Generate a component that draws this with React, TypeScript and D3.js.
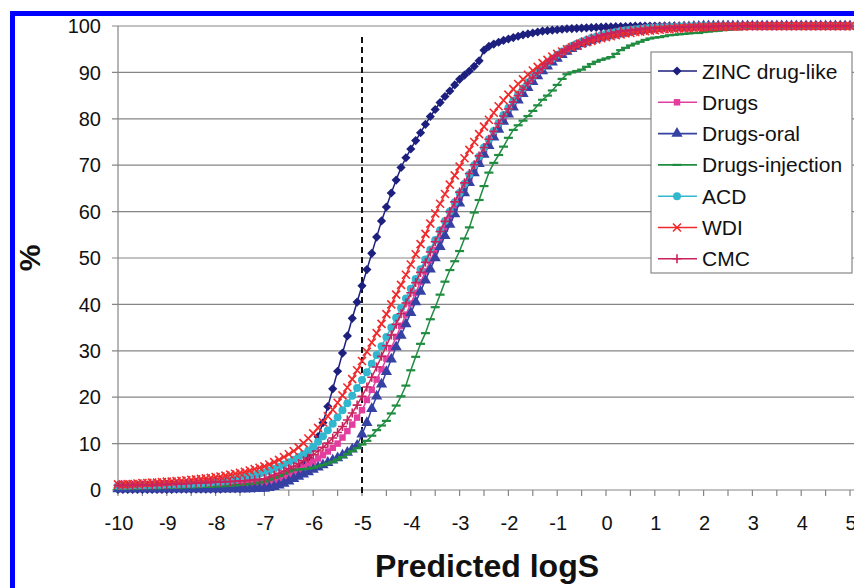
import React from "react";
import * as d3 from "d3";

// logS bins from -10 to 5 in steps of 0.1 (151 points)
const logS: number[] = d3.range(151).map((i) => Math.round((-10 + i * 0.1) * 10) / 10);
const xTicks: number[] = [-10, -9, -8, -7, -6, -5, -4, -3, -2, -1, 0, 1, 2, 3, 4, 5];
const yTicks: number[] = [0, 10, 20, 30, 40, 50, 60, 70, 80, 90, 100];

const zinc: number[] = [
  0.1, 0.1, 0.1, 0.1, 0.1, 0.1, 0.1, 0.1, 0.1, 0.1,
  0.1, 0.1, 0.2, 0.2, 0.2, 0.2, 0.2, 0.2, 0.2, 0.2,
  0.2, 0.2, 0.3, 0.3, 0.3, 0.3, 0.4, 0.4, 0.4, 0.5,
  0.6, 0.9, 1.3, 1.8, 2.4, 3.1, 3.8, 4.6, 5.5, 7.0,
  9.0, 11.5, 14.5, 18.0, 21.8, 25.6, 29.5, 33.2, 37.0, 40.5,
  44.0, 47.5, 51.0, 54.5, 58.0, 61.0, 64.0, 66.8, 69.5, 71.6,
  73.5, 75.3, 77.0, 78.8, 80.5, 82.0, 83.5, 84.8, 86.0, 87.3,
  88.5, 89.4, 90.3, 91.3, 92.5, 94.8, 95.6, 96.1, 96.5, 96.9,
  97.2, 97.5, 97.8, 98.1, 98.3, 98.5, 98.7, 98.9, 99.0, 99.1,
  99.2, 99.3, 99.4, 99.45, 99.5, 99.55, 99.6, 99.65, 99.7, 99.75,
  99.8, 99.8, 99.85, 99.9, 99.9, 99.95, 100, 100, 100, 100,
  100, 100, 100, 100, 100, 100, 100, 100, 100, 100,
  100, 100, 100, 100, 100, 100, 100, 100, 100, 100,
  100, 100, 100, 100, 100, 100, 100, 100, 100, 100,
  100, 100, 100, 100, 100, 100, 100, 100, 100, 100,
  100,
];

const drugs: number[] = [
  0.7, 0.7, 0.7, 0.7, 0.7, 0.8, 0.8, 0.8, 0.8, 0.8,
  0.9, 0.9, 0.9, 0.9, 0.9, 1.0, 1.0, 1.0, 1.0, 1.0,
  1.0, 1.1, 1.1, 1.2, 1.2, 1.3, 1.3, 1.4, 1.4, 1.5,
  1.5, 1.8, 2.1, 2.5, 2.9, 3.3, 3.8, 4.3, 4.9, 5.5,
  6.1, 6.8, 7.5, 8.3, 9.1, 10.0, 11.3, 12.7, 14.1, 15.6,
  17.2, 19.4, 21.6, 23.8, 26.0, 28.3, 30.6, 33.0, 35.4, 37.8,
  40.2, 42.5, 44.8, 47.1, 49.4, 51.7, 54.0, 56.3, 58.6, 60.8,
  63.0, 65.1, 67.2, 69.2, 71.1, 73.0, 74.8, 76.6, 78.3, 79.9,
  81.5, 83.0, 84.4, 85.8, 87.1, 88.3, 89.4, 90.4, 91.4, 92.3,
  93.1, 93.9, 94.6, 95.2, 95.7, 96.2, 96.6, 97.0, 97.3, 97.6,
  97.9, 98.1, 98.3, 98.5, 98.7, 98.9, 99.0, 99.1, 99.2, 99.3,
  99.4, 99.5, 99.6, 99.6, 99.7, 99.7, 99.8, 99.8, 99.9, 99.9,
  99.9, 99.9, 100, 100, 100, 100, 100, 100, 100, 100,
  100, 100, 100, 100, 100, 100, 100, 100, 100, 100,
  100, 100, 100, 100, 100, 100, 100, 100, 100, 100,
  100,
];

const drugsOral: number[] = [
  0.2, 0.2, 0.2, 0.2, 0.2, 0.2, 0.2, 0.2, 0.2, 0.2,
  0.2, 0.2, 0.2, 0.2, 0.2, 0.2, 0.2, 0.2, 0.2, 0.2,
  0.2, 0.2, 0.2, 0.2, 0.2, 0.2, 0.2, 0.2, 0.3, 0.3,
  0.3, 0.5, 0.7, 1.0, 1.4, 1.9, 2.4, 2.9, 3.4, 3.9,
  4.4, 4.9, 5.4, 5.9, 6.4, 6.9, 7.5, 8.1, 8.8, 9.6,
  12.0, 14.5, 17.5, 20.2, 22.8, 25.5, 28.2, 30.8, 33.3, 35.8,
  38.2, 40.5, 42.8, 45.2, 47.6, 50.0, 52.4, 54.8, 57.2, 59.5,
  61.8, 64.0, 66.2, 68.3, 70.3, 72.3, 74.2, 76.0, 77.7, 79.4,
  81.0, 82.5, 84.0, 85.4, 86.7, 88.0, 89.2, 90.3, 91.3, 92.2,
  93.0, 93.8, 94.5, 95.1, 95.6, 96.1, 96.5, 96.9, 97.2, 97.5,
  97.8, 98.0, 98.2, 98.4, 98.6, 98.8, 98.9, 99.0, 99.2, 99.3,
  99.4, 99.5, 99.6, 99.6, 99.7, 99.7, 99.8, 99.8, 99.9, 99.9,
  100, 100, 100, 100, 100, 100, 100, 100, 100, 100,
  100, 100, 100, 100, 100, 100, 100, 100, 100, 100,
  100, 100, 100, 100, 100, 100, 100, 100, 100, 100,
  100,
];

const drugsInjection: number[] = [
  0.3, 0.3, 0.3, 0.3, 0.3, 0.4, 0.4, 0.4, 0.4, 0.4,
  0.5, 0.5, 0.5, 0.5, 0.6, 0.6, 0.6, 0.7, 0.7, 0.7,
  0.8, 0.8, 0.9, 0.9, 1.0, 1.1, 1.2, 1.3, 1.4, 1.6,
  1.8, 2.2, 2.6, 3.0, 3.5, 4.0, 4.3, 4.4, 4.5, 4.6,
  4.8, 5.1, 5.4, 5.7, 6.1, 6.6, 7.1, 7.8, 8.4, 9.0,
  9.8, 10.6, 11.7, 12.9, 13.9, 14.9, 16.5, 18.2, 20.2, 22.5,
  25.8, 28.7, 31.5, 33.8, 36.8, 39.4, 42.1, 44.9, 47.4, 49.3,
  51.5, 54.2, 56.6, 59.8, 62.5, 65.5, 68.4, 70.5, 72.2, 74.0,
  75.9, 77.6, 78.6, 79.6, 80.6, 81.7, 82.9, 84.1, 85.0, 86.1,
  87.3, 88.6, 89.6, 90.0, 90.3, 90.6, 91.2, 91.8, 92.3, 92.7,
  93.0, 93.3, 94.0, 94.8, 95.3, 95.8, 96.2, 96.6, 97.0, 97.3,
  97.5, 97.6, 97.8, 98.0, 98.1, 98.2, 98.3, 98.4, 98.5, 98.5,
  98.7, 98.8, 98.9, 99.0, 99.1, 99.2, 99.3, 99.3, 99.4, 99.4,
  99.5, 99.5, 99.6, 99.6, 99.6, 99.7, 99.7, 99.7, 99.8, 99.8,
  99.8, 99.8, 99.9, 99.9, 99.9, 99.9, 99.9, 100, 100, 100,
  100,
];

const acd: number[] = [
  0.9, 0.9, 0.9, 1.0, 1.0, 1.0, 1.0, 1.1, 1.1, 1.1,
  1.2, 1.2, 1.2, 1.3, 1.3, 1.3, 1.4, 1.4, 1.5, 1.6,
  1.7, 1.8, 1.9, 2.1, 2.3, 2.6, 2.8, 3.0, 3.2, 3.5,
  3.8, 4.2, 4.6, 5.0, 5.5, 6.0, 6.5, 7.1, 7.7, 8.5,
  9.3, 10.4, 11.6, 12.9, 14.3, 15.7, 17.2, 18.7, 20.3, 22.0,
  23.7, 25.4, 27.2, 29.1, 31.0, 33.0, 35.0, 37.1, 39.2, 41.3,
  43.4, 45.5, 47.6, 49.7, 51.8, 53.9, 56.0, 58.0, 60.0, 62.0,
  64.0, 66.0, 68.0, 70.0, 71.9, 73.8, 75.6, 77.4, 79.1, 80.8,
  82.4, 83.9, 85.3, 86.6, 87.9, 89.1, 90.2, 91.2, 92.1, 93.0,
  93.8, 94.5, 95.1, 95.7, 96.2, 96.6, 97.0, 97.4, 97.7, 98.0,
  98.3, 98.5, 98.7, 98.9, 99.1, 99.2, 99.3, 99.4, 99.5, 99.6,
  99.6, 99.7, 99.7, 99.8, 99.8, 99.9, 99.9, 99.9, 100, 100,
  100, 100, 100, 100, 100, 100, 100, 100, 100, 100,
  100, 100, 100, 100, 100, 100, 100, 100, 100, 100,
  100, 100, 100, 100, 100, 100, 100, 100, 100, 100,
  100,
];

const wdi: number[] = [
  1.2, 1.2, 1.3, 1.3, 1.4, 1.5, 1.5, 1.6, 1.6, 1.7,
  1.8, 1.8, 1.9, 2.0, 2.1, 2.2, 2.3, 2.4, 2.5, 2.6,
  2.8, 2.9, 3.1, 3.3, 3.5, 3.7, 3.9, 4.2, 4.5, 4.8,
  5.1, 5.5, 6.0, 6.5, 7.1, 7.7, 8.4, 9.2, 10.1, 11.1,
  12.2, 13.4, 14.6, 15.9, 17.3, 18.8, 20.4, 22.1, 23.9, 25.8,
  27.8, 29.8, 31.8, 33.8, 35.8, 37.9, 40.0, 42.1, 44.2, 46.4,
  48.6, 50.8, 53.0, 55.2, 57.4, 59.6, 61.7, 63.8, 65.8, 67.8,
  69.7, 71.5, 73.3, 75.0, 76.7, 78.3, 79.8, 81.3, 82.7, 84.0,
  85.2, 86.4, 87.5, 88.5, 89.5, 90.4, 91.2, 92.0, 92.7, 93.4,
  94.0, 94.5, 95.0, 95.4, 95.8, 96.2, 96.5, 96.8, 97.1, 97.4,
  97.6, 97.8, 98.0, 98.2, 98.4, 98.5, 98.7, 98.8, 98.9, 99.0,
  99.1, 99.2, 99.3, 99.3, 99.4, 99.5, 99.5, 99.6, 99.6, 99.7,
  99.7, 99.7, 99.8, 99.8, 99.8, 99.9, 99.9, 99.9, 99.9, 100,
  100, 100, 100, 100, 100, 100, 100, 100, 100, 100,
  100, 100, 100, 100, 100, 100, 100, 100, 100, 100,
  100,
];

const cmc: number[] = [
  1.0, 1.0, 1.0, 1.0, 1.1, 1.1, 1.1, 1.1, 1.2, 1.2,
  1.2, 1.3, 1.3, 1.3, 1.4, 1.4, 1.5, 1.5, 1.6, 1.6,
  1.7, 1.7, 1.8, 1.8, 1.9, 2.0, 2.0, 2.1, 2.2, 2.3,
  2.4, 2.8, 3.2, 3.6, 4.1, 4.6, 5.1, 5.7, 6.3, 6.9,
  7.6, 8.4, 9.2, 10.1, 11.2, 12.4, 13.7, 15.1, 16.6, 18.3,
  20.2, 22.2, 24.3, 26.5, 28.8, 31.1, 33.4, 35.7, 38.0, 40.3,
  42.5, 44.7, 46.9, 49.1, 51.3, 53.5, 55.7, 57.9, 60.0, 62.1,
  64.2, 66.2, 68.2, 70.1, 72.0, 73.8, 75.6, 77.3, 79.0, 80.6,
  82.1, 83.6, 85.0, 86.3, 87.6, 88.8, 89.9, 90.9, 91.9, 92.8,
  93.6, 94.3, 95.0, 95.6, 96.1, 96.6, 97.0, 97.4, 97.7, 98.0,
  98.3, 98.5, 98.7, 98.9, 99.0, 99.1, 99.2, 99.3, 99.4, 99.5,
  99.5, 99.6, 99.6, 99.7, 99.7, 99.8, 99.8, 99.8, 99.9, 99.9,
  99.9, 99.9, 99.9, 100, 100, 100, 100, 100, 100, 100,
  100, 100, 100, 100, 100, 100, 100, 100, 100, 100,
  100, 100, 100, 100, 100, 100, 100, 100, 100, 100,
  100,
];

const seriesNames: string[] = ["ZINC drug-like", "Drugs", "Drugs-oral", "Drugs-injection", "ACD", "WDI", "CMC"];
const seriesValues: number[][] = [zinc, drugs, drugsOral, drugsInjection, acd, wdi, cmc];
const seriesColors: string[] = ["#1d1f7e", "#e33e9f", "#3542a3", "#1f8c40", "#33b7cf", "#f02a2c", "#c9235d"];
const seriesMarkers: string[] = ["diamond", "square", "triangle", "dash", "circle", "x", "plus"];

const W = 854;
const H = 588;
const FONT = "Liberation Sans, Arial, Helvetica, sans-serif";

function Marker({ kind, color, x, y }: { kind: string; color: string; x: number; y: number }) {
  const t = `translate(${x},${y})`;
  switch (kind) {
    case "diamond":
      return <path transform={`${t} rotate(45)`} d={d3.symbol(d3.symbolSquare, 42)() || ""} fill={color} />;
    case "square":
      return <path transform={t} d={d3.symbol(d3.symbolSquare, 42)() || ""} fill={color} />;
    case "triangle":
      return <path transform={t} d={d3.symbol(d3.symbolTriangle, 55)() || ""} fill={color} />;
    case "circle":
      return <path transform={t} d={d3.symbol(d3.symbolCircle, 50)() || ""} fill={color} />;
    case "dash":
      return <path transform={t} d="M-4.5,0H4.5" stroke={color} strokeWidth={2.2} fill="none" />;
    case "x":
      return <path transform={t} d="M-4,-4L4,4M-4,4L4,-4" stroke={color} strokeWidth={1.6} fill="none" />;
    case "plus":
      return <path transform={t} d="M-4.5,0H4.5M0,-4.5V4.5" stroke={color} strokeWidth={1.6} fill="none" />;
    default:
      return null;
  }
}

export default function App() {
  const x = d3.scaleLinear().domain([-10, 5]).range([118, 850]);
  const y = d3.scaleLinear().domain([0, 100]).range([490, 26]);
  const line = d3
    .line<number>()
    .x((_, i) => x(logS[i]))
    .y((d) => y(d));
  const halfTicks = d3.range(-10, 5.01, 0.5);
  const gridColor = "#858585";

  const legendX = 651;
  const legendY = 52;
  const legendRowH = 31.3;

  return (
    <div style={{ position: "fixed", left: 0, top: 0, width: W, height: H, background: "#fff" }}>
      <svg width={W} height={H} style={{ display: "block" }} fontFamily={FONT}>
        <rect x={0} y={0} width={W} height={H} fill="#fff" />
        {/* outer blue frame */}
        <rect x={12.5} y={13.5} width={W + 40} height={H + 40} fill="none" stroke="#0000ff" strokeWidth={5} />

        {/* gridlines */}
        {yTicks.slice(1).map((t) => (
          <line key={"g" + t} x1={112} x2={W} y1={y(t)} y2={y(t)} stroke={gridColor} strokeWidth={1.2} />
        ))}
        {/* axes */}
        <line x1={118} x2={118} y1={y(100)} y2={y(0)} stroke={gridColor} strokeWidth={1.2} />
        <line x1={112} x2={W} y1={y(0)} y2={y(0)} stroke={gridColor} strokeWidth={1.2} />
        {halfTicks.map((t) => (
          <line key={"xt" + t} x1={x(t)} x2={x(t)} y1={y(0)} y2={y(0) + 6} stroke={gridColor} strokeWidth={1.2} />
        ))}

        {/* tick labels */}
        {yTicks.map((t) => (
          <text key={"yl" + t} x={101} y={y(t)} dy="0.36em" textAnchor="end" fontSize={20} fill="#111">
            {t}
          </text>
        ))}
        {xTicks.map((t) => (
          <text key={"xl" + t} x={x(t) + 1} y={530} textAnchor="middle" fontSize={20} fill="#111">
            {t}
          </text>
        ))}

        {/* reference line at logS = -5 */}
        <line x1={x(-5)} x2={x(-5)} y1={37} y2={496} stroke="#111" strokeWidth={2} strokeDasharray="6,4" />

        {/* series */}
        {seriesValues.map((vals, si) => (
          <g key={"s" + si}>
            <path d={line(vals) || ""} fill="none" stroke={seriesColors[si]} strokeWidth={1.5} />
            {vals.map((v, i) => (
              <Marker key={i} kind={seriesMarkers[si]} color={seriesColors[si]} x={x(logS[i])} y={y(v)} />
            ))}
          </g>
        ))}

        {/* axis titles */}
        <text x={487} y={577} textAnchor="middle" fontSize={32} fontWeight="bold" fill="#111">
          Predicted logS
        </text>
        <text transform="translate(40,258) rotate(-90)" textAnchor="middle" fontSize={30} fontWeight="bold" fill="#111">
          %
        </text>

        {/* legend */}
        <rect x={legendX} y={legendY} width={201} height={221} fill="#fff" stroke="#888" strokeWidth={1.2} />
        {seriesNames.map((name, i) => {
          const cy = legendY + 19 + i * legendRowH;
          return (
            <g key={"l" + i}>
              <line x1={658} x2={697} y1={cy} y2={cy} stroke={seriesColors[i]} strokeWidth={1.6} />
              <Marker kind={seriesMarkers[i]} color={seriesColors[i]} x={677} y={cy} />
              <text x={702} y={cy} dy="0.36em" fontSize={21} fill="#111">
                {name}
              </text>
            </g>
          );
        })}
      </svg>
    </div>
  );
}
